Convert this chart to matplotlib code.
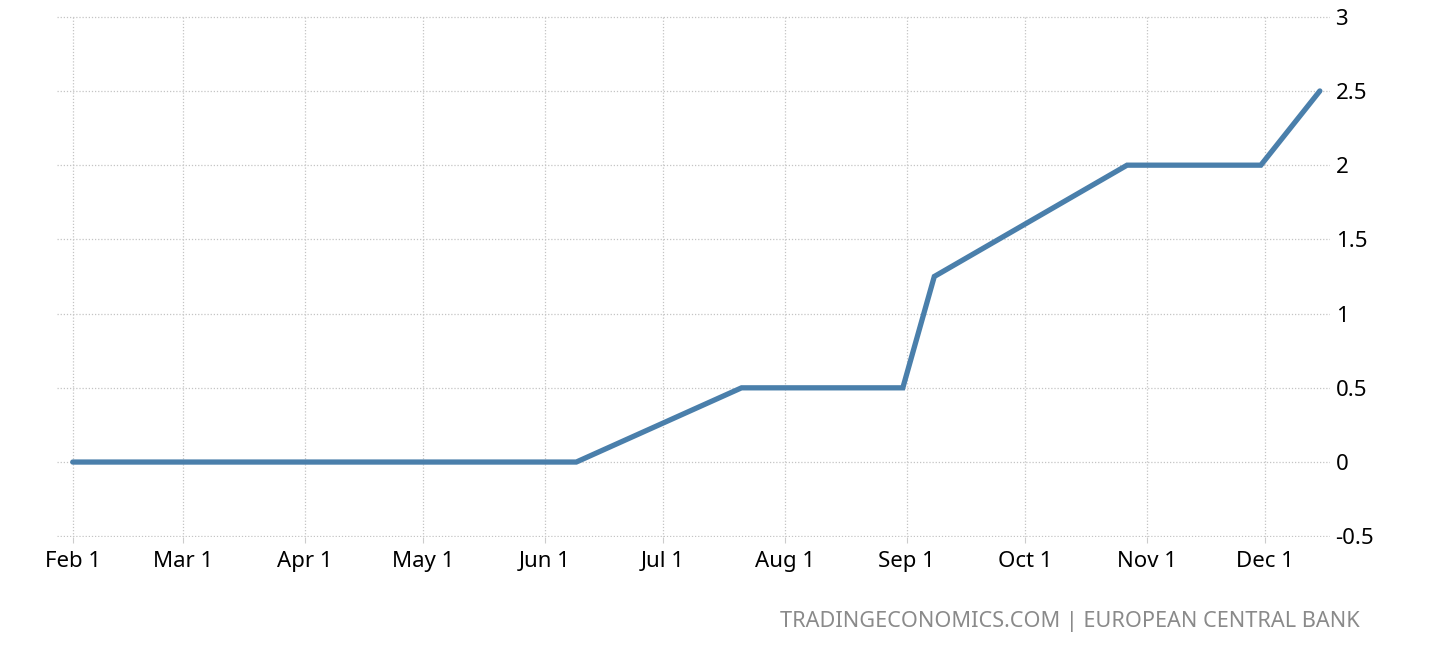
import matplotlib
matplotlib.use("Agg")
import matplotlib.pyplot as plt
from datetime import datetime

# ECB main refinancing rate, 2022
dates = ["2022-02-01", "2022-03-10", "2022-04-14", "2022-06-09", "2022-07-21",
         "2022-08-31", "2022-09-08", "2022-10-27", "2022-11-30", "2022-12-15"]
rates = [0.0, 0.0, 0.0, 0.0, 0.5, 0.5, 1.25, 2.0, 2.0, 2.5]

tick_dates = ["2022-02-01", "2022-03-01", "2022-04-01", "2022-05-01", "2022-06-01",
              "2022-07-01", "2022-08-01", "2022-09-01", "2022-10-01", "2022-11-01",
              "2022-12-01"]
tick_labels = ["Feb 1", "Mar 1", "Apr 1", "May 1", "Jun 1", "Jul 1", "Aug 1",
               "Sep 1", "Oct 1", "Nov 1", "Dec 1"]
y_ticks = [-0.5, 0, 0.5, 1, 1.5, 2, 2.5, 3]
y_labels = ["-0.5", "0", "0.5", "1", "1.5", "2", "2.5", "3"]

source = "TRADINGECONOMICS.COM | EUROPEAN CENTRAL BANK"

plt.rcParams["font.family"] = ["Noto Sans", "DejaVu Sans"]

x = [datetime.strptime(d, "%Y-%m-%d") for d in dates]
xt = [datetime.strptime(d, "%Y-%m-%d") for d in tick_dates]

fig = plt.figure(figsize=(14.33, 6.53), dpi=100)
ax = fig.add_axes([57 / 1433, 1 - 537 / 653, (1330 - 57) / 1433, (537 - 16) / 653])

ax.plot(x, rates, color="#4a7fab", linewidth=3.8, solid_capstyle="round",
        solid_joinstyle="miter", zorder=3)

ax.set_xlim(datetime(2022, 1, 28), datetime(2022, 12, 17, 14))
ax.set_ylim(-0.505, 3.005)

ax.set_xticks(xt)
ax.set_xticklabels(tick_labels)
ax.set_yticks(y_ticks)
ax.set_yticklabels(y_labels)
ax.yaxis.tick_right()

ax.tick_params(axis="x", length=4, color="#cccccc", pad=6, labelsize=16)
ax.tick_params(axis="y", length=0, pad=4, labelsize=16)

ax.grid(True, color="#c4c4c4", linestyle=(0, (1, 1.5)), linewidth=0.9)
for s in ax.spines.values():
    s.set_visible(False)

fig.text(1360 / 1433, 1 - 621 / 653, source, ha="right", va="center",
         color="#8a8a8a", fontsize=15.6)

fig.savefig("out.png", dpi=100)
